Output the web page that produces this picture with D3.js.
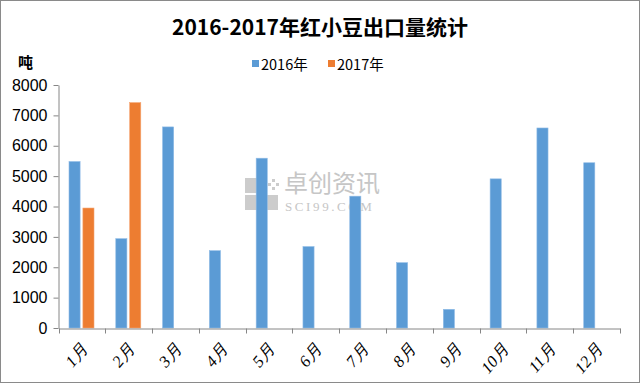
<!DOCTYPE html>
<html><head><meta charset="utf-8">
<script src="https://cdn.jsdelivr.net/npm/d3@7"></script>
<style>body{margin:0;background:#fff}svg{display:block}</style>
</head><body>
<svg id="c" width="640" height="384"></svg>
<script>
const months = ["1月","2月","3月","4月","5月","6月","7月","8月","9月","10月","11月","12月"];
const series = ["2016年","2017年"];
const values2016 = [5480,2940,6620,2545,5590,2680,4340,2150,615,4910,6585,5440];
const values2017 = [3950,7420,null,null,null,null,null,null,null,null,null,null];
const yTicks = [0,1000,2000,3000,4000,5000,6000,7000,8000];
const colors = ["#5B9BD5","#ED7D31"];

const svg = d3.select("#c");
svg.append("rect").attr("x",0.5).attr("y",0.5).attr("width",639).attr("height",382)
  .attr("fill","#fff").attr("stroke","#8a8a8a").attr("stroke-width",1);

const x = d3.scaleBand().domain(months).range([58.5,620]).padding(0);
const x1 = d3.scaleBand().domain(series).range([10.5,35.5]).paddingInner(0.2);
const y = d3.scaleLinear().domain([0,8000]).range([328,85]);

// watermark
const wm = svg.append("g").attr("fill","#cccccc");
wm.append("rect").attr("x",245).attr("y",178).attr("width",16).attr("height",15);
wm.append("rect").attr("x",245).attr("y",195).attr("width",16).attr("height",15);
wm.append("rect").attr("x",263).attr("y",195).attr("width",15).attr("height",15);
[[264,179],[272,179],[268,183],[264,187],[272,187],[276,183]].forEach(p=>wm.append("rect").attr("x",p[0]).attr("y",p[1]).attr("width",3).attr("height",3));
wm.append("text").attr("x",284).attr("y",192).attr("font-family","Noto Sans CJK SC").attr("font-size",24).attr("fill","#c6c6c6").text("卓创资讯");
wm.append("text").attr("x",285).attr("y",211).attr("font-family","Liberation Serif").attr("font-size",13).attr("fill","#c6c6c6").attr("letter-spacing",2.6).text("SCI99.COM");

// bars
const data = months.map((m,i)=>({m, vals:[values2016[i], values2017[i]]}));
const g = svg.append("g");
data.forEach(d=>{
  d.vals.forEach((v,j)=>{
    if(v==null) return;
    g.append("rect")
      .attr("x", x(d.m)+x1(series[j]))
      .attr("y", y(v))
      .attr("width", x1.bandwidth())
      .attr("height", y(0)-y(v))
      .attr("fill", colors[j])
      .attr("stroke", j===0?"#8fbbe6":"#f5a572").attr("stroke-width",0.6);
  });
});

// y axis
const yAxis = svg.append("g").attr("transform","translate(58.5,0)")
  .call(d3.axisLeft(y).tickValues(yTicks).tickFormat(d3.format("d")).tickSize(5).tickSizeOuter(0).tickPadding(4));
yAxis.select(".domain").attr("stroke","#868686");
yAxis.selectAll(".tick line").attr("stroke","#868686");
yAxis.selectAll("text").attr("font-family","Liberation Sans Narrow, Liberation Sans, sans-serif")
  .attr("font-size",16).attr("fill","#000").attr("dx",-2);

// x axis
const xAxis = svg.append("g").attr("transform","translate(0,328.5)")
  .call(d3.axisBottom(x).tickSize(0).tickFormat(""));
xAxis.select(".domain").attr("stroke","#868686");
const edges = months.map(m=>x(m)).concat([x.range()[1]]);
xAxis.selectAll("line.edge").data(edges).enter().append("line").attr("class","edge")
  .attr("x1",d=>Math.round(d)+0.5).attr("x2",d=>Math.round(d)+0.5).attr("y1",0).attr("y2",5)
  .attr("stroke","#868686");
svg.append("g").selectAll("text").data(months).enter().append("text")
  .attr("transform",d=>`translate(${x(d)+x.bandwidth()/2+7},349) rotate(-50)`)
  .attr("text-anchor","end")
  .attr("font-family","Liberation Serif, serif").attr("font-style","italic")
  .attr("font-size",16.5).attr("fill","#000").text(d=>d);

// title
svg.append("text").attr("x",320).attr("y",35).attr("text-anchor","middle")
  .attr("font-family","Noto Sans CJK SC").attr("font-weight","bold").attr("font-size",21)
  .attr("fill","#000").text("2016-2017年红小豆出口量统计");

// unit
svg.append("text").attr("x",18).attr("y",68).attr("font-family","Noto Sans CJK SC")
  .attr("font-size",15).attr("font-weight","bold").attr("fill","#000").text("吨");

// legend
const leg = svg.append("g").attr("transform","translate(252,70)");
const legX = [0,76];
series.forEach((s,i)=>{
  leg.append("rect").attr("x",legX[i]).attr("y",-10).attr("width",7).attr("height",7).attr("fill",colors[i]);
  leg.append("text").attr("x",legX[i]+9).attr("y",0).attr("font-family","Noto Sans CJK SC")
    .attr("font-size",14.5).attr("fill","#000").text(s);
});
</script>
</body></html>
